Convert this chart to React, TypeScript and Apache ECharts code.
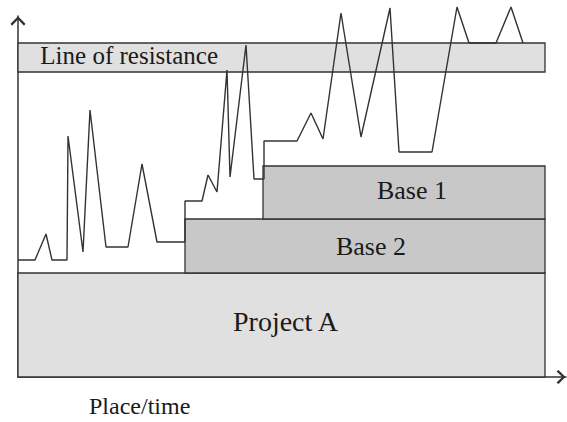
import React, { useEffect, useRef } from "react";
import * as echarts from "echarts";

// Bands (x from/to along place/time, y from/to level)
const bandNames = ["Project A", "Base 2", "Base 1", "Line of resistance"];
const bandStart = [0, 167, 245, 0];
const bandEnd = [527, 527, 527, 527];
const bandBottom = [0, 104, 158, 305];
const bandTop = [104, 158, 211, 334];

// Fluctuating line
const lineX = [0, 17, 28, 34, 49, 50, 65, 72, 88, 110, 124, 139, 167, 167, 184, 190, 199, 209, 212, 228, 236, 246, 246, 279, 293, 305, 323, 343, 372, 381, 414, 439, 451, 478, 493, 505];
const lineY = [117, 117, 143, 117, 117, 241, 125, 267, 130, 130, 213, 135, 135, 176, 176, 202, 185, 307, 200, 332, 198, 198, 236, 236, 264, 238, 364, 240, 369, 225, 225, 370, 334, 334, 370, 334];

const xLabel = "Place/time";

const SERIF = "'Liberation Serif', 'Times New Roman', serif";
const ARROW = "path://M5 0 L10 5 L9 6.4 L5 2.2 L1 6.4 L0 5 Z";

export default function App() {
  const ref = useRef<HTMLDivElement>(null);
  useEffect(() => {
    if (!ref.current) return;
    const chart = echarts.init(ref.current, null, { renderer: "svg" });
    const fills = ["#e0e0e0", "#c8c8c8", "#c8c8c8", "#e0e0e0"];
    const fontSizes = [28, 26, 26, 25];
    const offsets = [[4, -4], [6, 0], [8, -2], [0, -2]];
    const bandData = bandNames.map((n, i) => [bandStart[i], bandEnd[i], bandBottom[i], bandTop[i], i]);
    chart.setOption({
      animation: false,
      backgroundColor: "#ffffff",
      title: {
        text: xLabel,
        left: 89,
        top: 394,
        textStyle: { fontFamily: SERIF, fontSize: 24, fontWeight: "normal", color: "#1a1a1a" },
        padding: 0,
      },
      grid: { left: 18, right: 1, top: 16, bottom: 45 },
      xAxis: {
        type: "value",
        min: 0,
        max: 548,
        axisLine: {
          show: true,
          lineStyle: { color: "#333", width: 1.5 },
          symbol: ["none", ARROW],
          symbolSize: [14, 10],
          symbolOffset: [0, -5],
        },
        axisTick: { show: false },
        axisLabel: { show: false },
        splitLine: { show: false },
      },
      yAxis: {
        type: "value",
        min: 0,
        max: 361,
        axisLine: {
          show: true,
          lineStyle: { color: "#333", width: 1.5 },
          symbol: ["none", ARROW],
          symbolSize: [15, 10],
          symbolOffset: [0, -5],
        },
        axisTick: { show: false },
        axisLabel: { show: false },
        splitLine: { show: false },
      },
      series: [
        {
          type: "custom",
          z: 1,
          clip: false,
          data: bandData,
          renderItem: (params: any, api: any) => {
            const i = api.value(4);
            const p0 = api.coord([api.value(0), api.value(3)]);
            const p1 = api.coord([api.value(1), api.value(2)]);
            const isRes = i === 3;
            return {
              type: "rect",
              shape: { x: p0[0], y: p0[1], width: p1[0] - p0[0], height: p1[1] - p0[1] },
              style: { fill: fills[i], stroke: "#333", lineWidth: 1.3 },
              textContent: {
                style: {
                  text: bandNames[i],
                  fontFamily: SERIF,
                  fontSize: fontSizes[i],
                  fill: "#1a1a1a",
                },
              },
              textConfig: isRes
                ? { position: "insideLeft", distance: 23, offset: offsets[i] }
                : { position: "inside", offset: offsets[i] },
            };
          },
        },
        {
          type: "line",
          z: 3,
          clip: false,
          symbol: "none",
          data: lineX.map((x, i) => [x, lineY[i]]),
          lineStyle: { color: "#333", width: 1.4 },
        },
      ],
    });
    return () => chart.dispose();
  }, []);
  return <div ref={ref} style={{ position: "absolute", left: 0, top: 0, width: 567, height: 422 }} />;
}
